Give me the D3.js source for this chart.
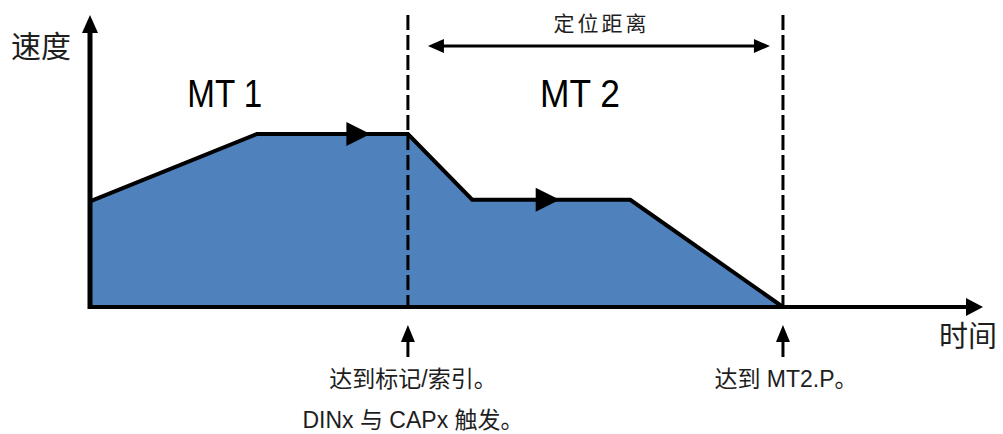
<!DOCTYPE html>
<html><head><meta charset="utf-8">
<script src="https://cdn.jsdelivr.net/npm/d3@7"></script>
<style>html,body{margin:0;padding:0;background:#fff;}svg{display:block;}</style>
</head><body>
<svg id="c" width="1003" height="434"></svg>
<script>
// Data (abstract units: time 0..100, speed 0..100 = MT1 cruise speed)
const profileT = [0, 18.7, 35.6, 42.8, 60.5, 77.6];
const profileV = [61, 100, 100, 62, 62, 0];
const dirArrowT = [31.4, 52.6];      // direction arrow tips
const dirArrowV = [100, 62];
const eventT = [35.6, 77.6];         // mark reached / MT2.P reached
const segLabels = ["MT 1", "MT 2"];
const segLabelT = [10.9, 50.4];
const eventLabels = [["达到标记/索引。", "DINx 与 CAPx 触发。"], ["达到 MT2.P。"]];
const distLabel = "定位距离";
const yLabel = "速度", xLabel = "时间";

const svg = d3.select("#c");
const x = d3.scaleLinear().domain([0, 100]).range([90, 983]);
const y = d3.scaleLinear().domain([0, 100]).range([307, 134]);
const yTop = y.invert(15), xEnd = 100;
const pts = profileT.map((t, i) => ({t, v: profileV[i]}));
const FONT = "'Liberation Sans','Noto Sans CJK SC',sans-serif";
const CJK = "'Noto Sans CJK SC','Liberation Sans',sans-serif";
const txt = "#1e1e1e";

// filled area
svg.append("path").datum(pts)
  .attr("d", d3.area().x(d => x(d.t)).y0(y(0)).y1(d => y(d.v)))
  .attr("fill", "#4f81bd");
// outline
svg.append("path").datum(pts)
  .attr("d", d3.line().x(d => x(d.t)).y(d => y(d.v)))
  .attr("fill", "none").attr("stroke", "#000").attr("stroke-width", 4).attr("stroke-linejoin", "miter");

// dashed event lines
eventT.forEach(t => {
  svg.append("line").attr("x1", x(t)).attr("x2", x(t)).attr("y1", y(yTop)).attr("y2", y(0))
    .attr("stroke", "#000").attr("stroke-width", 3).attr("stroke-dasharray", "15,5");
});

// axes
svg.append("line").attr("x1", x(0)).attr("x2", x(0)).attr("y1", y(0) + 2).attr("y2", y(yTop) + 10)
  .attr("stroke", "#000").attr("stroke-width", 5);
svg.append("path").attr("d", `M${x(0)},${y(yTop)} L${x(0) - 8},${y(yTop) + 18} L${x(0) + 8},${y(yTop) + 18} Z`).attr("fill", "#000");
svg.append("line").attr("x1", x(0) - 2).attr("x2", x(xEnd) - 10).attr("y1", y(0)).attr("y2", y(0))
  .attr("stroke", "#000").attr("stroke-width", 4);
svg.append("path").attr("d", `M${x(xEnd)},${y(0)} L${x(xEnd) - 17},${y(0) - 9} L${x(xEnd) - 17},${y(0) + 9} Z`).attr("fill", "#000");

// direction arrows
dirArrowT.forEach((t, i) => {
  const px = x(t), py = y(dirArrowV[i]);
  svg.append("path").attr("d", `M${px},${py} L${px - 24},${py - 12} L${px - 24},${py + 12} Z`).attr("fill", "#000");
});

// positioning distance double arrow
const dy = 46, dx1 = x(eventT[0]) + 20, dx2 = x(eventT[1]) - 13;
svg.append("line").attr("x1", dx1 + 10).attr("x2", dx2 - 10).attr("y1", dy).attr("y2", dy).attr("stroke", "#000").attr("stroke-width", 3);
svg.append("path").attr("d", `M${dx1},${dy} L${dx1 + 16},${dy - 7} L${dx1 + 16},${dy + 7} Z`).attr("fill", "#000");
svg.append("path").attr("d", `M${dx2},${dy} L${dx2 - 16},${dy - 7} L${dx2 - 16},${dy + 7} Z`).attr("fill", "#000");
svg.append("text").attr("x", (x(eventT[0]) + x(eventT[1])) / 2 + 6).attr("y", 31)
  .attr("text-anchor", "middle").attr("font-family", CJK).attr("font-size", 21).attr("letter-spacing", 3)
  .attr("fill", txt).text(distLabel);

// up arrows under events
eventT.forEach(t => {
  const px = x(t);
  svg.append("line").attr("x1", px).attr("x2", px).attr("y1", 336).attr("y2", 357).attr("stroke", "#000").attr("stroke-width", 3);
  svg.append("path").attr("d", `M${px},325 L${px - 7},342 L${px + 7},342 Z`).attr("fill", "#000");
});

// segment labels
segLabels.forEach((s, i) => {
  svg.append("text").attr("x", x(segLabelT[i])).attr("y", 107)
    .attr("font-family", FONT).attr("font-size", 39).attr("fill", "#000")
    .attr("textLength", i === 0 ? 75 : 80).attr("lengthAdjust", "spacingAndGlyphs")
    .text(s);
});

// event labels
const evY = [[387, 428], [387]];
const evCx = [413, 786];
eventLabels.forEach((lines, i) => {
  lines.forEach((l, j) => {
    svg.append("text").attr("x", evCx[i]).attr("y", evY[i][j]).attr("text-anchor", "middle")
      .attr("font-family", FONT).attr("font-size", 23).attr("fill", txt).text(l);
  });
});

// axis titles
svg.append("text").attr("x", 11).attr("y", 57).attr("font-family", CJK).attr("font-size", 30).attr("fill", txt).text(yLabel);
svg.append("text").attr("x", 939).attr("y", 347).attr("font-family", CJK).attr("font-size", 29).attr("fill", txt).text(xLabel);
</script>
</body></html>
